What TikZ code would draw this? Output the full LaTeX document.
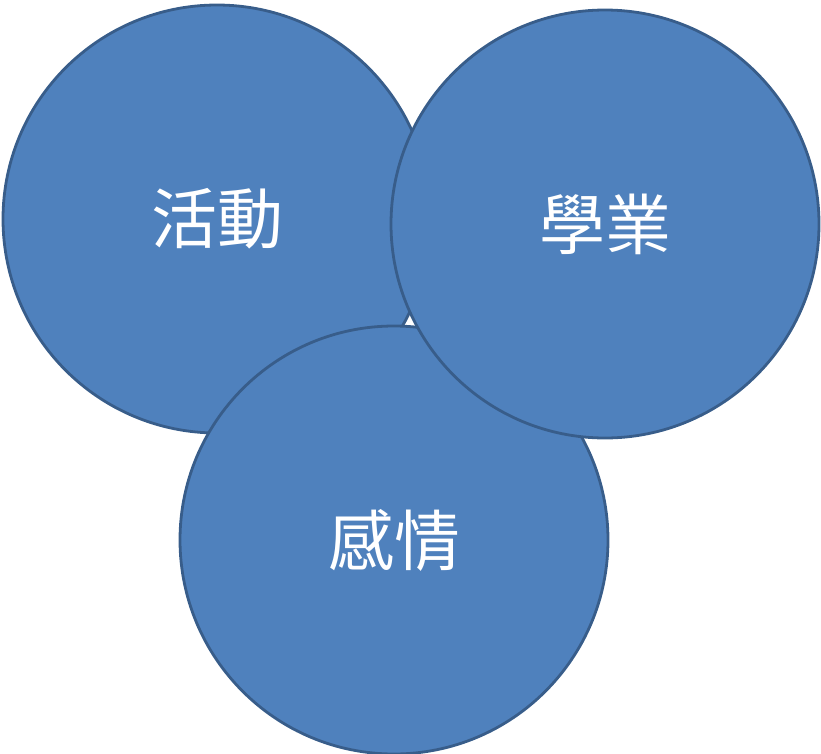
\documentclass[tikz,border=0pt]{standalone}
\usepackage{fontspec}
\newfontfamily\cjk{Noto Sans CJK TC}
\definecolor{ballfill}{HTML}{4F81BD}
\definecolor{balldraw}{HTML}{385D8A}

\begin{document}
\begin{tikzpicture}[
  x=1pt, y=-1pt,
  ball/.style={circle, draw=balldraw, fill=ballfill, line width=2.8pt,
               minimum size=428pt, inner sep=0pt, text=white,
               font=\cjk\fontsize{66}{72}\selectfont}]

\useasboundingbox (0,0) rectangle (821,753);

% three areas (left, bottom, right on top)
\node[ball] (act) at (217,219) {活動};
\node[ball] (love) at (394,540) {感情};
\node[ball] (study) at (605,224) {學業};
\end{tikzpicture}
\end{document}
